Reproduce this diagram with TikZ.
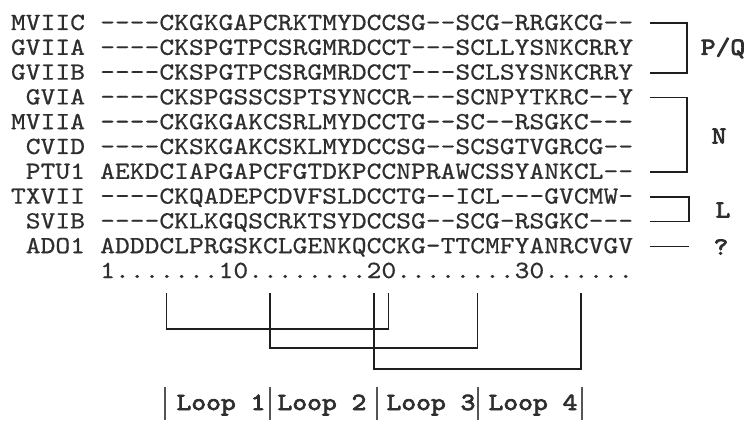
\documentclass[tikz,border=0pt]{standalone}
\usepackage{fontspec}
\setmonofont{lmmono10-regular}[Extension=.otf, FakeStretch=1.1429, FakeBold=0.6]
\newfontfamily\monobold{lmmono10-regular}[Extension=.otf, FakeStretch=1.1429, FakeBold=3]
\definecolor{txt}{HTML}{2E2E2E}
\definecolor{ln}{HTML}{1E1E1E}
\definecolor{bar}{HTML}{555555}
\begin{document}
\begin{tikzpicture}[x=1pt,y=-1pt,
  mono/.style={font=\ttfamily\fontsize{24.67}{24.67}\selectfont, text=txt, inner sep=0pt},
  seqtxt/.style={mono, anchor=base west},
  nametxt/.style={mono, anchor=base east},
  grouplbl/.style={mono, font=\monobold\fontsize{24.67}{24.67}\selectfont, anchor=center},
  looplbl/.style={mono, font=\monobold\fontsize{24.67}{24.67}\selectfont, anchor=base},
  brk/.style={draw=ln, line width=1.8pt},
  loopbar/.style={draw=bar, line width=1.5pt}]
\useasboundingbox (0,0) rectangle (744,422);
% rows: baseline y = 30 + 24.8*i
\node[nametxt] (n0) at (85.2,30.0)  {MVIIC};
\node[seqtxt]  (s0) at (100,30.0)   {----CKGKGAPCRKTMYDCCSG--SCG-RRGKCG--};
\node[nametxt] (n1) at (85.2,54.8)  {GVIIA};
\node[seqtxt]  (s1) at (100,54.8)   {----CKSPGTPCSRGMRDCCT---SCLLYSNKCRRY};
\node[nametxt] (n2) at (85.2,79.6)  {GVIIB};
\node[seqtxt]  (s2) at (100,79.6)   {----CKSPGTPCSRGMRDCCT---SCLSYSNKCRRY};
\node[nametxt] (n3) at (85.2,104.4) {GVIA};
\node[seqtxt]  (s3) at (100,104.4)  {----CKSPGSSCSPTSYNCCR---SCNPYTKRC--Y};
\node[nametxt] (n4) at (85.2,129.2) {MVIIA};
\node[seqtxt]  (s4) at (100,129.2)  {----CKGKGAKCSRLMYDCCTG--SC--RSGKC---};
\node[nametxt] (n5) at (85.2,154.0) {CVID};
\node[seqtxt]  (s5) at (100,154.0)  {----CKSKGAKCSKLMYDCCSG--SCSGTVGRCG--};
\node[nametxt] (n6) at (85.2,178.8) {PTU1};
\node[seqtxt]  (s6) at (100,178.8)  {AEKDCIAPGAPCFGTDKPCCNPRAWCSSYANKCL--};
\node[nametxt] (n7) at (85.2,203.6) {TXVII};
\node[seqtxt]  (s7) at (100,203.6)  {----CKQADEPCDVFSLDCCTG--ICL---GVCMW-};
\node[nametxt] (n8) at (85.2,228.4) {SVIB};
\node[seqtxt]  (s8) at (100,228.4)  {----CKLKGQSCRKTSYDCCSG--SCG-RSGKC---};
\node[nametxt] (n9) at (85.2,253.2) {ADO1};
\node[seqtxt]  (s9) at (100,253.2)  {ADDDCLPRGSKCLGENKQCCKG-TTCMFYANRCVGV};
\node[seqtxt]  (num) at (100,278.0) {1.......10........20........30......};
% group brackets
\coordinate (pqA) at (650,23.2);  \coordinate (pqB) at (650,72.8);
\coordinate (nA) at (650,97.6);   \coordinate (nB) at (650,172.0);
\coordinate (lA) at (650,196.8);  \coordinate (lB) at (650,221.6);
\coordinate (qA) at (650,246.4);  \coordinate (qB) at (689,246.4);
\draw[brk] (pqA) -- ++(37,0) |- (pqB);
\draw[brk] (nA) -- ++(37,0) |- (nB);
\draw[brk] (lA) -- ++(39,0) |- (lB);
\draw[brk] (qA) -- (qB);
\node[grouplbl] (gpq) at (723,48) {P/Q};
\node[grouplbl] (gn)  at (719,136) {N};
\node[grouplbl] (gl)  at (723,210) {L};
\node[grouplbl] (gq)  at (721,247) {?};
% disulfide connectivity (cysteine columns 5,12,19,20,26,33)
\coordinate (c1) at (166.6,293);
\coordinate (c2) at (270.2,293);
\coordinate (c3) at (373.8,293);
\coordinate (c4) at (388.6,293);
\coordinate (c5) at (477.4,293);
\coordinate (c6) at (581.0,293);
\draw[brk, line width=1.6pt] (c1) -- ++(0,36) -| (c4);
\draw[brk, line width=1.6pt] (c2) -- ++(0,55) -| (c5);
\draw[brk, line width=1.6pt] (c3) -- ++(0,76) -| (c6);
% loop bars and labels
\coordinate (b1) at (165,387); \coordinate (b1e) at (165,420);
\coordinate (b2) at (270,387); \coordinate (b2e) at (270,420);
\coordinate (b3) at (377,387); \coordinate (b3e) at (377,420);
\coordinate (b4) at (478,387); \coordinate (b4e) at (478,420);
\coordinate (b5) at (582,387); \coordinate (b5e) at (582,420);
\draw[loopbar] (b1) -- (b1e);
\draw[loopbar] (b2) -- (b2e);
\draw[loopbar] (b3) -- (b3e);
\draw[loopbar] (b4) -- (b4e);
\draw[loopbar] (b5) -- (b5e);
\node[looplbl] (l1) at (221,410) {Loop 1};
\node[looplbl] (l2) at (322,410) {Loop 2};
\node[looplbl] (l3) at (431,410) {Loop 3};
\node[looplbl] (l4) at (533,410) {Loop 4};
\end{tikzpicture}
\end{document}
